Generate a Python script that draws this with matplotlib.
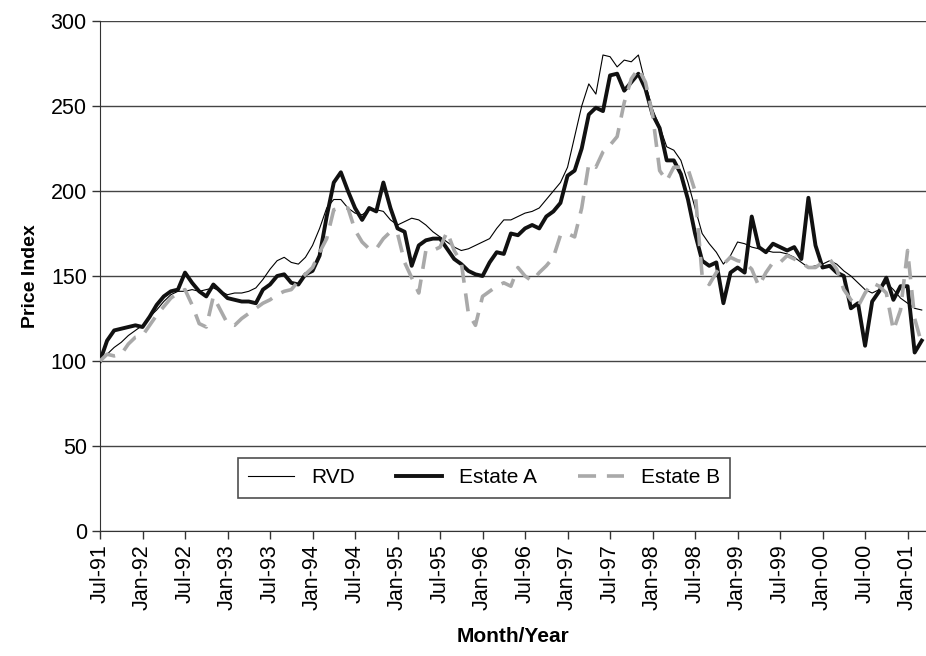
"""Monthly price index: RVD vs two estates, Jul-91 to Mar-01."""

import matplotlib
matplotlib.use("Agg")
import matplotlib.pyplot as plt
import numpy as np


RVD = [
    100, 104, 108, 111, 115, 118, 121, 126, 130, 135, 139, 141,
    141, 142, 141, 142, 143, 141, 139, 140, 140, 141, 143, 148,
    154, 159, 161, 158, 157, 161, 168, 178, 190, 195, 195, 190,
    187, 186, 189, 189, 188, 183, 180, 182, 184, 183, 180, 176,
    173, 170, 167, 165, 166, 168, 170, 172, 178, 183, 183, 185,
    187, 188, 190, 195, 200, 205, 214, 232, 250, 263, 257, 280,
    279, 273, 277, 276, 280, 263, 248, 238, 226, 224, 218, 205,
    190, 175, 169, 164, 157, 162, 170, 169, 167, 166, 165, 164,
    164, 163, 161, 158, 155, 156, 157, 159, 157, 153, 150, 146,
    142, 140, 142, 146, 142, 137, 134, 131, 130,
]

ESTATE_A = [
    100, 112, 118, 119, 120, 121, 120, 126, 133, 138, 141, 142,
    152, 146, 141, 138, 145, 141, 137, 136, 135, 135, 134, 142,
    145, 150, 151, 146, 145, 151, 153, 162, 185, 205, 211, 200,
    190, 183, 190, 188, 205, 190, 178, 176, 156, 168, 171, 172,
    172, 166, 160, 157, 153, 151, 150, 158, 164, 163, 175, 174,
    178, 180, 178, 185, 188, 193, 209, 212, 225, 245, 249, 247,
    268, 269, 259, 264, 269, 260, 245, 237, 218, 218, 210, 195,
    175, 159, 156, 158, 134, 152, 155, 152, 185, 167, 164, 169,
    167, 165, 167, 160, 196, 168, 155, 156, 152, 150, 131, 134,
    109, 135, 141, 149, 136, 144, 144, 105, 112,
]

ESTATE_B = [
    100, 104, 103, 104, 110, 114, 115, 121, 127, 132, 137, 140,
    142, 133, 122, 120, 138, 130, 122, 121, 125, 128, 131, 134,
    136, 139, 141, 142, 147, 151, 155, 164, 172, 189, 190, 190,
    177, 170, 166, 166, 172, 176, 175, 158, 149, 140, 165, 165,
    167, 176, 165, 158, 128, 121, 138, 141, 144, 146, 144, 155,
    150, 147, 152, 156, 161, 174, 175, 173, 190, 216, 214, 223,
    227, 232, 252, 266, 272, 264, 245, 212, 206, 214, 214, 213,
    200, 150, 145, 152, 157, 161, 159, 158, 154, 144, 152, 158,
    158, 162, 160, 158, 155, 155, 158, 160, 154, 142, 136, 132,
    140, 146, 144, 140, 118, 130, 165, 125, 110,
]

TICK_LABELS = [
    "Jul-91", "Jan-92", "Jul-92", "Jan-93", "Jul-93", "Jan-94", "Jul-94",
    "Jan-95", "Jul-95", "Jan-96", "Jul-96", "Jan-97", "Jul-97", "Jan-98",
    "Jul-98", "Jan-99", "Jul-99", "Jan-00", "Jul-00", "Jan-01",
]

FONT = ["Liberation Sans Narrow", "Liberation Sans", "DejaVu Sans"]


def main():
    plt.rcParams["font.family"] = FONT
    fig = plt.figure(figsize=(9.26, 6.56), dpi=100)
    ax = fig.add_axes([0.108, 0.1905, 0.892, 0.7775])

    x = np.arange(len(RVD))
    ax.plot(x, RVD, color="black", linewidth=0.8, label="RVD", zorder=3)
    ax.plot(x, ESTATE_A, color="#111111", linewidth=2.8, label="Estate A", zorder=4)
    ax.plot(x, ESTATE_B, color="#a9a9a9", linewidth=2.6, dashes=(5, 3),
            label="Estate B", zorder=5)

    ax.set_xlim(0, 116.6)
    ax.set_ylim(0, 300)
    ax.set_yticks(range(0, 301, 50))
    ax.set_xticks(range(0, 6 * len(TICK_LABELS), 6))
    ax.set_xticklabels(TICK_LABELS, rotation=90)
    ax.tick_params(axis="both", direction="out", length=6, width=1,
                   labelsize=15.5, color="#333333")
    ax.yaxis.grid(True, color="#444444", linewidth=1)
    ax.set_axisbelow(True)

    for side in ("top", "right"):
        ax.spines[side].set_visible(False)
    for side in ("left", "bottom"):
        ax.spines[side].set_color("#333333")

    ax.set_ylabel("Price Index", fontsize=14, fontweight="bold", labelpad=8)
    ax.set_xlabel("Month/Year", fontsize=15, fontweight="bold", labelpad=12)

    leg = ax.legend(loc="center", bbox_to_anchor=(0.465, 0.104), ncol=3,
                    fontsize=15, frameon=True, fancybox=False,
                    handlelength=2.2, columnspacing=2.0, borderpad=0.5)
    leg.get_frame().set_edgecolor("#222222")
    leg.get_frame().set_linewidth(1.2)

    fig.savefig("out.png", dpi=100)
    plt.close(fig)


if __name__ == "__main__":
    main()
